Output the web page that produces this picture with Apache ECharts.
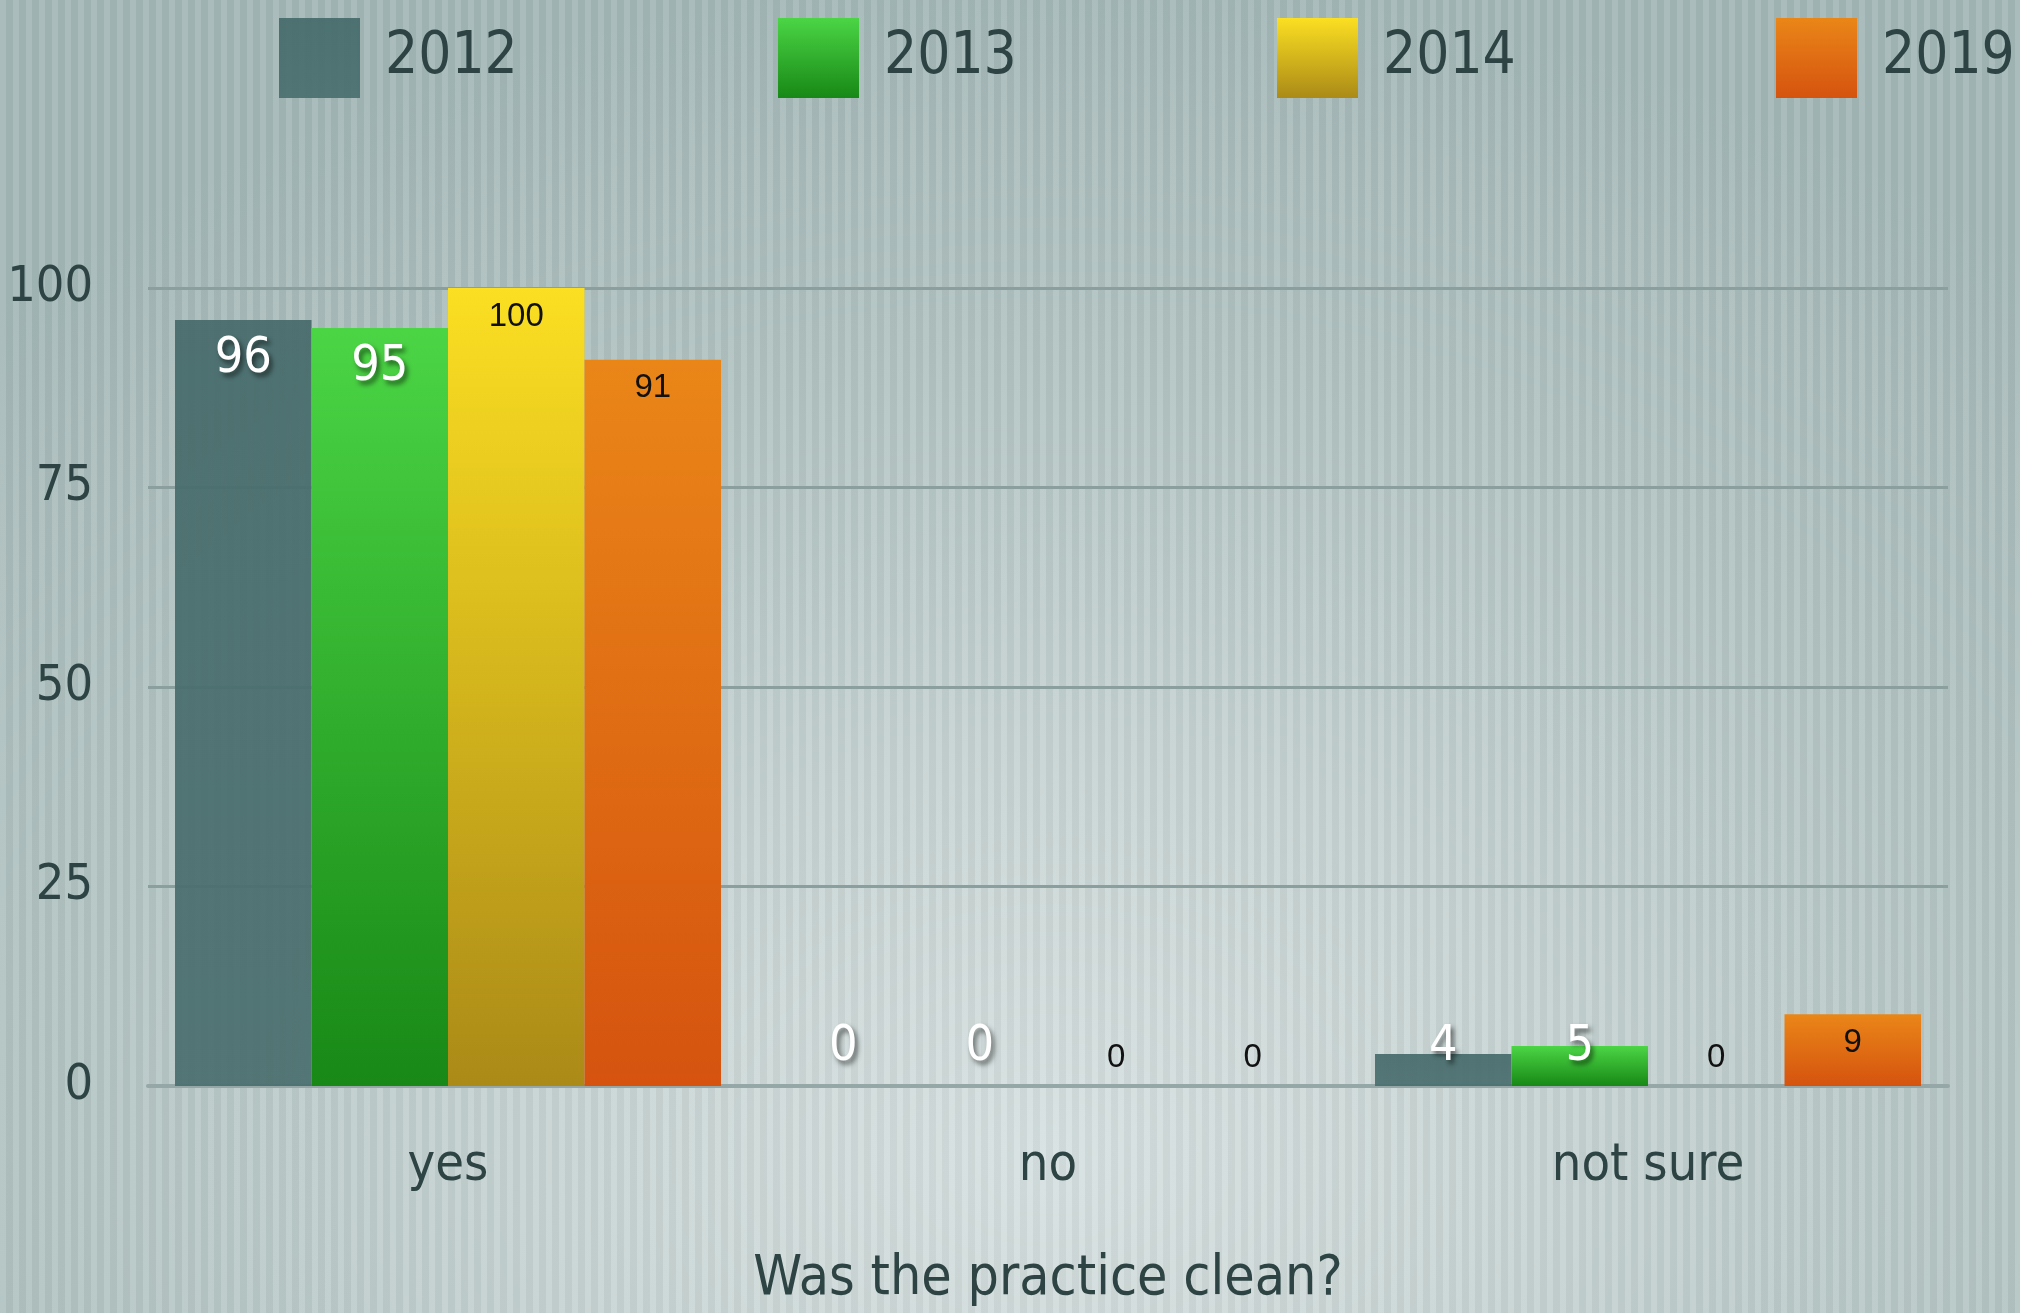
<!DOCTYPE html>
<html>
<head>
<meta charset="utf-8">
<script src="https://cdn.jsdelivr.net/npm/echarts@6/dist/echarts.min.js"></script>
<style>
  html, body { margin: 0; padding: 0; }
  body {
    width: 2020px;
    height: 1313px;
    overflow: hidden;
    background:
      repeating-linear-gradient(90deg, rgba(255,255,255,0.07) 0 6px, rgba(0,0,0,0.035) 6px 13px),
      radial-gradient(ellipse 75% 90% at 52% 88%, #d7e1e1 0%, #c6d3d2 35%, #b1c3c2 70%, #a4b8b7 100%);
  }
  #chart { width: 2020px; height: 1313px; }
</style>
</head>
<body>
<div id="chart"></div>
<script>
// data
const categories = ["yes", "no", "not sure"];
const years = ["2012", "2013", "2014", "2019"];
const values2012 = [96, 0, 4];
const values2013 = [95, 0, 5];
const values2014 = [100, 0, 0];
const values2019 = [91, 0, 9];
const yMin = 0, yMax = 100, yStep = 25;

const condensed = '"DejaVu Sans Condensed", "DejaVu Sans", sans-serif';
const inkColor = "#2e4444";

function grad(top, bottom) {
  return new echarts.graphic.LinearGradient(0, 0, 0, 1, [
    { offset: 0, color: top },
    { offset: 1, color: bottom }
  ]);
}

const whiteLabel = {
  show: true,
  position: "insideTop",
  distance: 14,
  color: "#ffffff",
  fontFamily: condensed,
  fontSize: 50,
  textShadowColor: "rgba(0,0,0,0.55)",
  textShadowBlur: 5,
  textShadowOffsetX: 3,
  textShadowOffsetY: 4
};
const blackLabel = {
  show: true,
  position: "insideTop",
  distance: 12,
  color: "#111111",
  fontFamily: '"Liberation Sans", Arial, sans-serif',
  fontSize: 33
};

// short bars: keep the label above the axis
function makeData(values, minValue) {
  return values.map(function (v) {
    if (v < minValue) return { value: v, label: { position: "insideBottom" } };
    return v;
  });
}

const seriesDefs = [
  { name: years[0], values: values2012, color: grad("rgba(70,106,106,0.92)", "rgba(74,110,110,0.92)"), label: whiteLabel, minV: 10 },
  { name: years[1], values: values2013, color: grad("#4bd545", "#188816"), label: whiteLabel, minV: 10 },
  { name: years[2], values: values2014, color: grad("#fbdf22", "#ab8a17"), label: blackLabel, minV: 7 },
  { name: years[3], values: values2019, color: grad("#ea8618", "#d5530f"), label: blackLabel, minV: 7 }
];

const legendLeft = [274, 773, 1272, 1771];

const chart = echarts.init(document.getElementById("chart"));
chart.setOption({
  backgroundColor: "transparent",
  animation: false,
  legend: seriesDefs.map(function (s, i) {
    return {
      data: [s.name],
      left: legendLeft[i],
      top: 13,
      icon: "rect",
      itemWidth: 81,
      itemHeight: 80,
      textStyle: {
        color: inkColor,
        fontFamily: condensed,
        fontSize: 58,
        padding: [0, 0, 0, 20]
      }
    };
  }),
  grid: { left: 148, right: 72, top: 288, bottom: 227, outerBoundsMode: "none" },
  xAxis: {
    type: "category",
    data: categories,
    axisTick: { show: false },
    axisLine: { lineStyle: { color: "#95a7a7", width: 4 } },
    axisLabel: {
      color: inkColor,
      fontFamily: condensed,
      fontSize: 52,
      margin: 54
    },
    name: "Was the practice clean?",
    nameLocation: "middle",
    nameGap: 166,
    nameTextStyle: {
      color: inkColor,
      fontFamily: condensed,
      fontSize: 55
    }
  },
  yAxis: {
    type: "value",
    min: yMin,
    max: yMax,
    interval: yStep,
    axisLine: { show: false },
    axisTick: { show: false },
    splitLine: { lineStyle: { color: "#8b9f9f", width: 3 } },
    axisLabel: {
      color: inkColor,
      fontFamily: condensed,
      fontSize: 50,
      margin: 55
    }
  },
  series: seriesDefs.map(function (s) {
    return {
      name: s.name,
      type: "bar",
      data: makeData(s.values, s.minV),
      barCategoryGap: "9%",
      barGap: "0%",
      itemStyle: { color: s.color },
      label: s.label
    };
  })
});
</script>
</body>
</html>
